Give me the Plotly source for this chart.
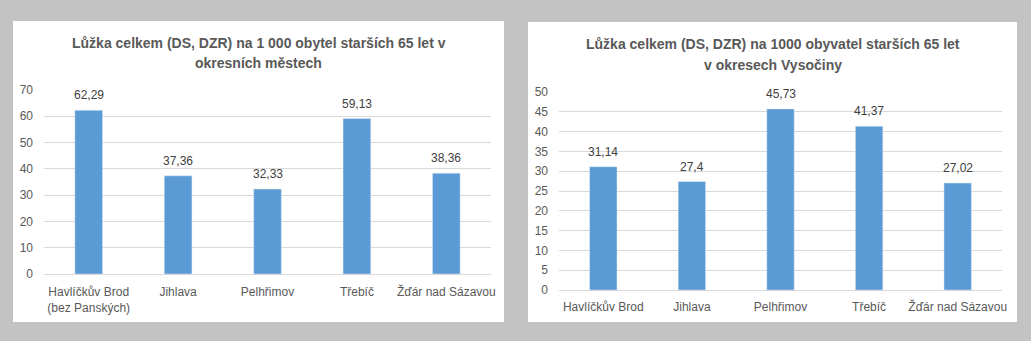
import plotly.graph_objects as go

# Beds (DS, DZR) per 1 000 inhabitants aged 65+
cities = ["Havlíčkův Brod<br>(bez Panských)", "Jihlava", "Pelhřimov", "Třebíč", "Žďár nad Sázavou"]
city_values = [62.29, 37.36, 32.33, 59.13, 38.36]

districts = ["Havlíčkův Brod", "Jihlava", "Pelhřimov", "Třebíč", "Žďár nad Sázavou"]
district_values = [31.14, 27.4, 45.73, 41.37, 27.02]

left_title = ["Lůžka celkem (DS, DZR) na 1 000 obytel starších 65 let v", "okresních městech"]
right_title = ["Lůžka celkem (DS, DZR) na 1000 obyvatel starších 65 let", "v okresech Vysočiny"]

W, H = 1031, 341
BAR = "#5b9bd5"
GRID = "#d9d9d9"
TICK = "#595959"
FONT = "Liberation Sans, Arial, sans-serif"


def px(x):
    return x / W


def py(y):
    return (H - y) / H


def label(v):
    return str(v).replace(".", ",")


fig = go.Figure()

fig.add_trace(go.Bar(
    x=cities, y=city_values, marker_color=BAR, xaxis="x", yaxis="y",
    hoverinfo="x+y",
))
fig.add_trace(go.Bar(
    x=districts, y=district_values, marker_color=BAR, xaxis="x2", yaxis="y2",
    hoverinfo="x+y",
))

# value labels above each bar
for cats, vals, xr, yr in [(cities, city_values, "x", "y"), (districts, district_values, "x2", "y2")]:
    for c, v in zip(cats, vals):
        fig.add_annotation(
            x=c, y=v, xref=xr, yref=yr, text=label(v), showarrow=False,
            xanchor="center", yanchor="bottom", yshift=6,
            font=dict(color="#404040", size=12, family=FONT),
        )

axis_common = dict(
    showgrid=False, showline=False, zeroline=False, automargin=False,
    tickfont=dict(color=TICK, size=12, family=FONT), fixedrange=True,
)
yaxis_common = dict(
    showgrid=True, gridcolor=GRID, gridwidth=1, zeroline=True, zerolinecolor=GRID,
    zerolinewidth=1, showline=False, automargin=False,
    tickfont=dict(color=TICK, size=12, family=FONT), ticklabelstandoff=10, fixedrange=True,
)

fig.update_layout(
    width=W, height=H,
    margin=dict(l=0, r=0, t=0, b=0),
    paper_bgcolor="#c3c3c3",
    plot_bgcolor="rgba(0,0,0,0)",
    showlegend=False,
    bargap=0.69,
    separators=", ",
    xaxis=dict(domain=[px(44), px(491)], anchor="y", ticklabelstandoff=9, **axis_common),
    yaxis=dict(domain=[py(274), py(90)], anchor="x", range=[0, 70], dtick=10, **yaxis_common),
    xaxis2=dict(domain=[px(559), px(1002)], anchor="y2", ticklabelstandoff=8, **axis_common),
    yaxis2=dict(domain=[py(290), py(92)], anchor="x2", range=[0, 50], dtick=5, **yaxis_common),
    shapes=[
        dict(type="rect", xref="paper", yref="paper", layer="below",
             x0=px(13), x1=px(504), y0=py(322), y1=py(21),
             fillcolor="white", line=dict(width=0)),
        dict(type="rect", xref="paper", yref="paper", layer="below",
             x0=px(528), x1=px(1017), y0=py(322), y1=py(22),
             fillcolor="white", line=dict(width=0)),
    ],
)

title_font = dict(color="#595959", size=14, family=FONT)
for cx, lines, ys in [(258.5, left_title, (43, 63)), (772.5, right_title, (44, 65))]:
    for text, yy in zip(lines, ys):
        fig.add_annotation(
            xref="paper", yref="paper", x=px(cx), y=py(yy),
            text=f"<b>{text}</b>", showarrow=False, font=title_font,
            xanchor="center", yanchor="middle",
        )

fig.write_html("out.html")
